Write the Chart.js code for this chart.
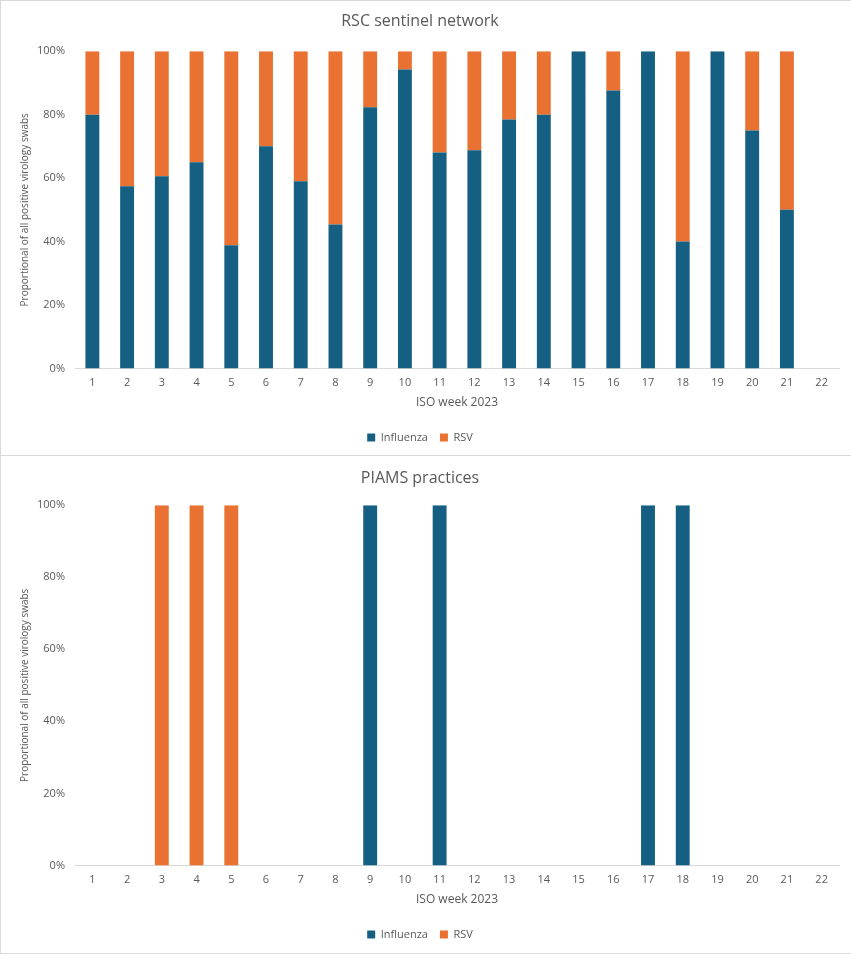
<!DOCTYPE html>
<html>
<head>
<meta charset="utf-8">
<script src="https://cdn.jsdelivr.net/npm/chart.js@4"></script>
<style>
  body { margin: 0; background: #fff; }
  .box { position: absolute; left: 0; width: 850px; background: #fff; border: 1px solid #d9d9d9; border-right: none; }
  #topBox { top: 0; height: 454px; border-bottom: none; }
  #bottomBox { top: 455px; height: 497px; }
  canvas { display: block; }
</style>
</head>
<body>
<div class="box" id="topBox"><canvas id="rscChart"></canvas></div>
<div class="box" id="bottomBox"><canvas id="piamsChart"></canvas></div>
<script>
// 周次
const weeks = ['1', '2', '3', '4', '5', '6', '7', '8', '9', '10', '11', '12', '13', '14', '15', '16', '17', '18', '19', '20', '21', '22']

// RSC sentinel network (%)
const rscInfluenza = [80, 57.4, 60.6, 65, 38.8, 70, 59, 45.4, 82.3, 94.2, 68.1, 68.8, 78.5, 80, 100, 87.6, 100, 40, 100, 75, 50, null]
const rscRsv = [20, 42.6, 39.4, 35, 61.2, 30, 41, 54.6, 17.7, 5.8, 31.9, 31.2, 21.5, 20, 0, 12.4, 0, 60, 0, 25, 50, null]

// PIAMS practices (%)
const piamsInfluenza = [0, 0, 0, 0, 0, 0, 0, 0, 100, 0, 100, 0, 0, 0, 0, 0, 100, 100, 0, 0, 0, 0]
const piamsRsv = [0, 0, 100, 100, 100, 0, 0, 0, 0, 0, 0, 0, 0, 0, 0, 0, 0, 0, 0, 0, 0, 0]

const yTicks = [0, 20, 40, 60, 80, 100]

const blue = '#156082'
const orange = '#e97132'
const textGrey = '#595959'
const fontName = "'Open Sans', 'Noto Sans', sans-serif"

function makeChart(id, title, influenza, rsv, sizes) {
    const ctx = document.getElementById(id).getContext('2d')
    ctx.canvas.width = 850
    ctx.canvas.height = sizes.height
    return new Chart(ctx, {
        type: 'bar',
        data: {
            labels: weeks,
            datasets: [
                { label: 'Influenza', data: influenza, backgroundColor: blue },
                { label: 'RSV', data: rsv, backgroundColor: orange }
            ]
        },
        options: {
            responsive: false,
            animation: false,
            datasets: { bar: { categoryPercentage: 0.4, barPercentage: 1 } },
            layout: { padding: { left: 0, right: 12, top: sizes.padTop, bottom: sizes.padBottom } },
            plugins: {
                title: {
                    display: true,
                    text: title,
                    color: textGrey,
                    font: { family: fontName, size: 16, weight: 'normal' },
                    padding: { top: 0, bottom: sizes.titleGap }
                },
                legend: {
                    position: 'bottom',
                    labels: {
                        boxWidth: 8,
                        boxHeight: 8,
                        color: textGrey,
                        padding: 12,
                        font: { family: fontName, size: 11 }
                    }
                },
                tooltip: { enabled: false }
            },
            scales: {
                x: {
                    stacked: true,
                    grid: { display: false, drawTicks: false },
                    border: { color: '#d9d9d9' },
                    ticks: { color: textGrey, font: { family: fontName, size: 11 }, padding: sizes.tickGap, maxRotation: 0 },
                    title: {
                        display: true,
                        text: 'ISO week 2023',
                        color: textGrey,
                        font: { family: fontName, size: 12 },
                        padding: { top: -2, bottom: sizes.xTitleGap }
                    }
                },
                y: {
                    stacked: true,
                    min: 0,
                    max: 100,
                    afterBuildTicks: scale => {
                        scale.ticks = yTicks.map(v => ({ value: v }))
                    },
                    afterFit: scale => {
                        scale.width = 74
                    },
                    grid: { display: false, drawTicks: false },
                    border: { display: false },
                    ticks: {
                        color: textGrey,
                        font: { family: fontName, size: 11 },
                        padding: 10,
                        callback: v => v + '%'
                    },
                    title: {
                        display: true,
                        text: 'Proportional of all positive virology swabs',
                        color: textGrey,
                        font: { family: fontName, size: 10 },
                        padding: { top: 18, bottom: 4 }
                    }
                }
            }
        }
    })
}

makeChart('rscChart', 'RSC sentinel network', rscInfluenza, rscRsv,
    { height: 454, padTop: 11, padBottom: 2, titleGap: 20, xTitleGap: 10, tickGap: 8 })
makeChart('piamsChart', 'PIAMS practices', piamsInfluenza, piamsRsv,
    { height: 497, padTop: 13, padBottom: 3, titleGap: 17, xTitleGap: 10, tickGap: 8 })
</script>
</body>
</html>
